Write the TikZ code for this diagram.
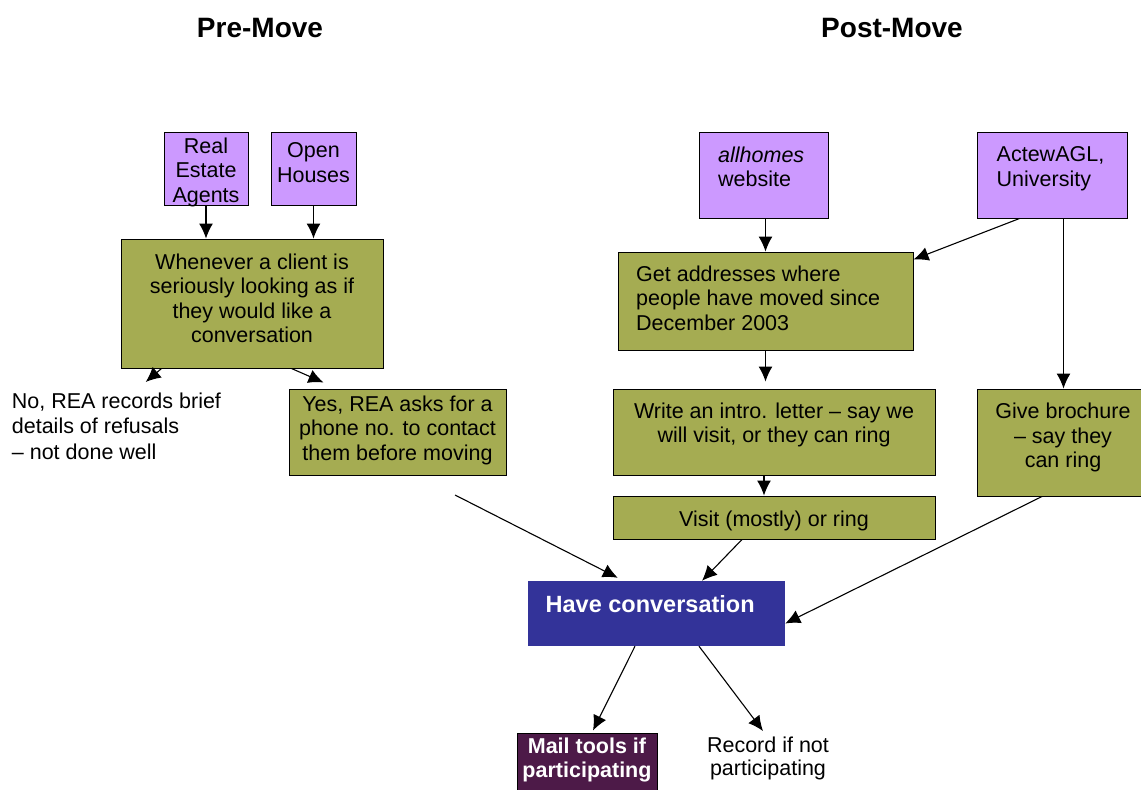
\documentclass[tikz,border=0pt]{standalone}
\usepackage{fontspec}
\setmainfont{Liberation Sans}
\usetikzlibrary{arrows.meta}
\definecolor{lilac}{RGB}{204,153,255}
\definecolor{mossgreen}{RGB}{165,172,82}
\definecolor{convblue}{RGB}{51,51,153}
\definecolor{plumbox}{RGB}{77,26,72}
\begin{document}
\begin{tikzpicture}%
	[x=1pt, y=-1pt,
	box/.style={draw, line width=1pt, inner sep=0pt},
	source/.style={box, fill=lilac},
	stepbox/.style={box, fill=mossgreen},
	txt/.style={inner sep=0pt, font=\fontsize{21.5}{24.4}\selectfont},
	boldtxt/.style={txt, font=\fontsize{21.5}{24.4}\selectfont\bfseries, text=white},
	title/.style={inner sep=0pt, anchor=base, font=\fontsize{28}{32}\selectfont\bfseries},
	conn/.style={line width=1.1pt, -{Latex[length=15pt,width=14pt]}}]
%
\useasboundingbox (0,0) rectangle (1141,790);
%%
%% Titles
%%
\node[title] (pre) at (260,37.5) {Pre-Move};
\node[title] (post) at (892,37.5) {Post-Move};
%%
%% Drawing the boxes
%%
\node[source, minimum width=84pt, minimum height=73pt] (rea) at (206,168.5) {};
\node[source, minimum width=85pt, minimum height=73pt] (open) at (313.5,168.5) {};
\node[stepbox, minimum width=262pt, minimum height=129pt] (when) at (252,303.5) {};
\node[stepbox, minimum width=217pt, minimum height=86pt] (yes) at (397.5,432) {};
\node[source, minimum width=129pt, minimum height=86pt] (allh) at (763.5,175) {};
\node[source, minimum width=150pt, minimum height=86pt] (actew) at (1052,175) {};
\node[stepbox, minimum width=295pt, minimum height=98pt] (get) at (765.5,301) {};
\node[stepbox, minimum width=322pt, minimum height=86pt] (write) at (774,432) {};
\node[stepbox, minimum width=322pt, minimum height=43pt] (visit) at (774,517.5) {};
\node[stepbox, minimum width=173pt, minimum height=107pt] (give) at (1063.5,442.5) {};
\node[fill=convblue, inner sep=0pt, minimum width=257pt, minimum height=65pt] (have) at (656.5,613.5) {};
\node[box, fill=plumbox, minimum width=140pt, minimum height=67pt] (mail) at (587,766.5) {};
%%
%% Drawing the texts
%%
\node[txt, align=center, anchor=north] (reaText) at (206,137.6) {Real\\Estate\\Agents};
\node[txt, align=center, anchor=north] (openText) at (313.5,142.6) {Open\\Houses};
\node[txt, align=center, anchor=north] (whenText) at (252,253.6) {Whenever a client is\\seriously looking as if\\they would like a\\conversation};
\node[txt, align=left, anchor=north west, font=\fontsize{21.5}{25.5}\selectfont] (refusal) at (11.7,392.6) {No, REA records brief\\details of refusals\\-- not done well};
\node[txt, align=center, anchor=north] (yesText) at (397.5,395.6) {Yes, REA asks for a\\phone no. to contact\\them before moving};
\node[txt, align=left, anchor=north west] (allhText) at (718,146.6) {\textit{allhomes}\\website};
\node[txt, align=left, anchor=north west] (actewText) at (996.5,146.6) {ActewAGL,\\University};
\node[txt, align=left, anchor=north west] (getText) at (636,265.6) {Get addresses where\\people have moved since\\December 2003};
\node[txt, align=center, anchor=north] (writeText) at (774,402.6) {Write an intro. letter -- say we\\will visit, or they can ring};
\node[txt, align=center, anchor=north] (giveText) at (1063,403) {Give brochure\\-- say they\\can ring};
\node[txt, align=center, anchor=north] (visitText) at (774,510.6) {Visit (mostly) or ring};
\node[boldtxt, align=left, anchor=north west, font=\fontsize{23.5}{26}\selectfont\bfseries] (haveText) at (545.5,595.2) {Have conversation};
\node[boldtxt, align=center, anchor=north] (mailText) at (587,737.6) {Mail tools if\\participating};
\node[txt, align=center, anchor=north, font=\fontsize{21.5}{23}\selectfont] (record) at (768,736.6) {Record if not\\participating};
%%
%% Drawing the arrows
%%
\coordinate (yesOut) at (455,495);
\draw[conn] (rea.south) -- (rea.south |- when.north);
\draw[conn] (open.south) -- (open.south |- when.north);
\draw[conn] ([xshift=41pt]when.south west) -- ([xshift=134pt,yshift=10.6pt]refusal.north west);
\draw[conn] ([xshift=171pt]when.south west) -- ([xshift=35pt,yshift=6pt]yes.north west);
\draw[conn] (yesOut) -- ([xshift=90pt,yshift=3pt]have.north west);
\draw[conn] (get.north |- allh.south) -- (get.north);
\draw[conn] ([xshift=43pt]actew.south west) -- ([yshift=-8pt]get.north east);
\draw[conn, shorten >=7pt] (get.south) -- (get.south |- write.north);
\draw[conn] ([xshift=-10pt]write.south) -- ([xshift=-10pt]visit.north);
\draw[conn] (give.north |- actew.south) -- (give.north);
\draw[conn] ([xshift=-32pt]visit.south) -- ([xshift=45.5pt]have.north);
\draw[conn] ([xshift=-21.5pt]give.south) -- ([yshift=-10pt]have.east);
\draw[conn] ([xshift=-21.5pt]have.south) -- ([xshift=6pt,yshift=2pt]mail.north);
\draw[conn] ([xshift=42.5pt]have.south) -- ([xshift=-5pt,yshift=5.6pt]record.north);
%%
\end{tikzpicture}
\end{document}
